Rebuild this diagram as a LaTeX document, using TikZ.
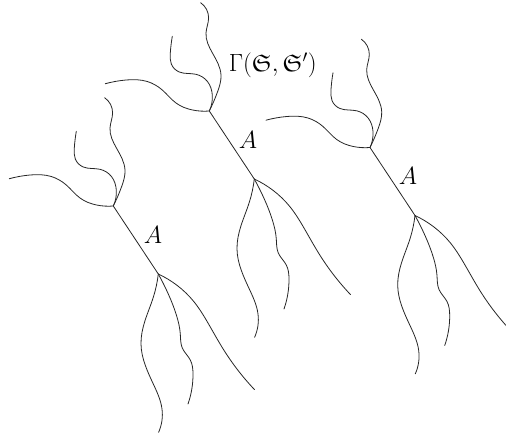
\documentclass[tikz,border=0pt]{standalone}
\usepackage{amssymb}
\usetikzlibrary{hobby}
\tikzset{
  branch/.style={draw=black!85,line width=0.8pt,line cap=round,use Hobby shortcut},
  stem/.style={draw=black!85,line width=0.8pt},
  lab/.style={inner sep=0pt,font=\fontsize{24}{28}\selectfont},
  tree/.pic={
    \coordinate (-top) at (0,0);
    \coordinate (-bot) at (45,68);
    \draw[stem] (-top) -- (-bot);
    \draw[branch] (0,0) .. (-16.7,-1) .. (-33.3,-8) .. (-47,-21) .. (-62,-29.5) .. (-83.3,-31) .. (-104,-27.3);
    \draw[branch] (0,0) .. (3,-16) .. (-1.7,-29.3) .. (-13.3,-36.7) .. (-30,-39) .. (-38,-47) .. (-39,-58) .. (-37,-74.7);
    \draw[branch] (0,0) .. (8.3,-19.3) .. (11.7,-36) .. (3.3,-57.7) .. (-3.3,-78) .. (-0.7,-93) .. (-8.7,-108.3);
    \begin{scope}[shift={(45,68)}]
      \draw[branch] (0,0) .. (-5,23.3) .. (-13.3,46.7) .. (-17.3,70) .. (-5,110) .. (3.7,135) .. (0.3,158.3);
      \draw[branch] (0,0) .. (10,20) .. (18.3,41.7) .. (22,60) .. (24,74) .. (32,86) .. (34.7,100) .. (29.7,130);
      \draw[branch] (0,0) .. (18.7,11.3) .. (35.3,27.3) .. (48.7,47.3) .. (65.3,75.7) .. (96.3,115.7);
    \end{scope}
  }
}
\begin{document}
\begin{tikzpicture}[x=1pt,y=-1pt]
  \useasboundingbox (0,0) rectangle (506,434);
  \pic (treeL) at (113.3,206) {tree};
  \pic (treeM) at (209.3,111) {tree};
  \pic (treeR) at (370,147.5) {tree};
  \node[lab] (gamma) at (272.7,65) {$\Gamma(\mathfrak{S},\mathfrak{S}')$};
  \node[lab] (aL) at (153,235) {$A$};
  \node[lab] (aM) at (248,140) {$A$};
  \node[lab] (aR) at (408,176) {$A$};
\end{tikzpicture}
\end{document}
